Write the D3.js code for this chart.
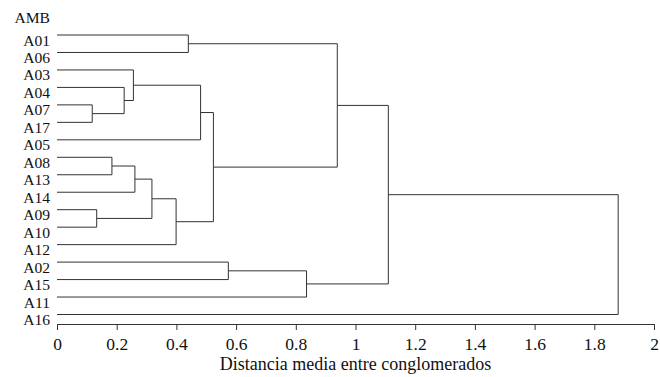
<!DOCTYPE html>
<html lang="es">
<head>
<meta charset="UTF-8">
<title>Dendrograma</title>
<script src="https://d3js.org/d3.v7.min.js"></script>
<style>
  body { margin: 0; background: #fff; }
  text { font-family: "Liberation Serif", "Times New Roman", serif; fill: #111; }
</style>
</head>
<body>
<div id="chart"></div>
<script>
// leaf order, top to bottom
const leaves = ["A01","A06","A03","A04","A07","A17","A05","A08","A13","A14","A09","A10","A12","A02","A15","A11","A16"];
// merge steps: cluster cN is the N-th row
const mergeA = ["A01","A07","A04","A03","c3","A08","c5","A09","c6","c8","c4","c0","A02","c12","c11","c14"];
const mergeB = ["A06","A17","c1","c2","A05","A13","A14","A10","c7","A12","c9","c10","A15","A11","c13","A16"];
const mergeDist = [0.44,0.118,0.225,0.256,0.481,0.184,0.261,0.133,0.318,0.399,0.524,0.939,0.574,0.836,1.11,1.88];
const xTicks = [0,0.2,0.4,0.6,0.8,1,1.2,1.4,1.6,1.8,2];

const width = 660, height = 377;
const svg = d3.select("#chart").append("svg")
    .attr("width", width)
    .attr("height", height);

const x = d3.scaleLinear().domain([0, 2]).range([57, 654]);
const y = d3.scalePoint().domain(leaves).range([35, 314.5]);

// build the tree from the merge table
const nodes = {};
leaves.forEach(name => nodes[name] = {name: name, dist: 0});
mergeA.forEach((a, i) => {
    nodes["c" + i] = {name: "c" + i, dist: mergeDist[i], children: [nodes[a], nodes[mergeB[i]]]};
});
const root = d3.hierarchy(nodes["c" + (mergeA.length - 1)]);

root.eachAfter(d => {
    d.px = x(d.data.dist);
    d.py = d.children ? d3.mean(d.children, c => c.py) : y(d.data.name);
});

const g = svg.append("g");
root.descendants().filter(d => d.children).forEach(d => {
    const p = d3.path();
    const [c1, c2] = d.children;
    p.moveTo(c1.px, c1.py);
    p.lineTo(d.px, c1.py);
    p.lineTo(d.px, c2.py);
    p.lineTo(c2.px, c2.py);
    g.append("path")
        .attr("d", p.toString())
        .attr("fill", "none")
        .attr("stroke", "#333")
        .attr("stroke-width", 1);
});

// leaf labels, kept a bit smaller than the row step so they don't collide
svg.selectAll(".leaf")
    .data(leaves)
    .enter()
    .append("text")
    .attr("class", "leaf")
    .attr("x", 50)
    .attr("y", d => y(d) + 10.5)
    .attr("text-anchor", "end")
    .style("font-size", "15.6px")
    .text(d => d);

svg.append("text")
    .attr("x", 50)
    .attr("y", 23)
    .attr("text-anchor", "end")
    .style("font-size", "15.6px")
    .text("AMB");

const axis = svg.append("g")
    .attr("transform", "translate(0,324)")
    .call(d3.axisBottom(x).tickValues(xTicks).tickFormat(d3.format("~g")).tickSize(6));
axis.select(".domain").attr("stroke", "#333");
axis.selectAll(".tick line").attr("stroke", "#333");
axis.selectAll(".tick text")
    .attr("dy", "0.97em")
    .style("font-size", "17.5px")
    .style("font-family", "Liberation Serif, serif")
    .attr("fill", "#111");

svg.append("text")
    .attr("x", (x(0) + x(2)) / 2)
    .attr("y", 369.5)
    .attr("text-anchor", "middle")
    .style("font-size", "18px")
    .text("Distancia media entre conglomerados");
</script>
</body>
</html>
